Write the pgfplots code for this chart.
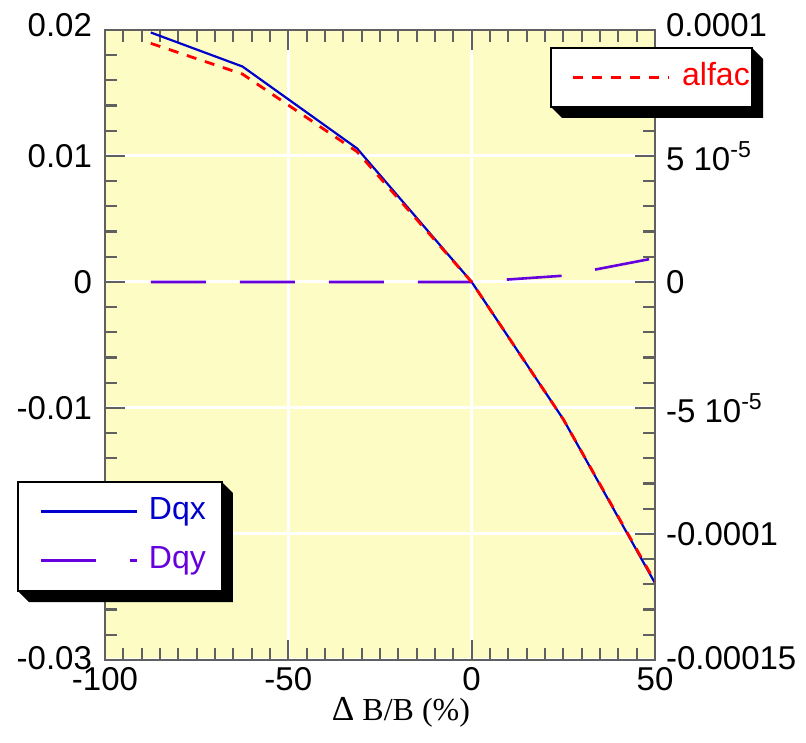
\documentclass[border=0pt]{standalone}
\usepackage{pgfplots}
\pgfplotsset{compat=1.18}
\usepackage{pgfplotstable}
\usepackage{fontspec}
\setmainfont{Liberation Sans}
\newfontfamily\timesfont{Liberation Serif}
\definecolor{bgy}{RGB}{252,252,196}
\definecolor{axgray}{RGB}{96,96,96}
\definecolor{dqx}{RGB}{0,0,204}
\definecolor{dqy}{RGB}{102,0,221}
\definecolor{alf}{RGB}{255,0,0}

\pgfplotstableread{
x dqx dqy
-87.5 0.0198 0
-62.5 0.0171 0
-31.25 0.0106 0
0 0 0
25 -0.0109 0.0005
50 -0.0239 0.0019
}\lefttab
\pgfplotstableread{
x alfac
-87.5 9.47e-5
-62.5 8.25e-5
-31.25 5.17e-5
0 0
25 -5.45e-5
50 -1.19e-4
}\righttab

\pgfplotsset{common/.style={
  width=275pt, height=315pt, scale only axis, clip=false,
  xmin=-100, xmax=50,
  axis line style={axgray, line width=1.25pt},
  tick style={axgray, line width=1.1pt},
  major tick length=10pt, minor tick length=6pt,
  tick align=inside,
  ticklabel style={font=\fontsize{16.5}{18}\selectfont},
  scaled y ticks=false, scaled x ticks=false,
  legend style={draw=none, fill=none,
    font=\fontsize{16}{18}\selectfont,
    nodes={text height=12pt, text depth=3.5pt, inner ysep=2pt},
    row sep=5pt, inner ysep=4.75pt},
  legend image code/.code={\draw[#1] (0pt,0pt) -- (48pt,0pt);},
}}
% shadowed box: #1=x0, #2=x1, #3=ybottom, #4=ytop (rel axis cs)
\newcommand{\shadowbox}[4]{%
  \fill[black] (rel axis cs:#2,#4) -- ([shift={(5.5pt,-5.5pt)}]rel axis cs:#2,#4)
    -- ([shift={(5.5pt,-5.5pt)}]rel axis cs:#2,#3) -- ([shift={(5.5pt,-5.5pt)}]rel axis cs:#1,#3)
    -- (rel axis cs:#1,#3) -- cycle;
  \filldraw[fill=white, draw=black, line width=1.35pt] (rel axis cs:#1,#3) rectangle (rel axis cs:#2,#4);
}

\begin{document}
\begin{tikzpicture}
\begin{axis}[common,
  axis background/.style={fill=bgy},
  grid=major, major grid style={white, line width=1.5pt},
  xtick={-100,-50,0,50}, xticklabels={-100,-50,0,50},
  minor x tick num=9, xtick pos=both,
  ymin=-0.03, ymax=0.02,
  ytick={-0.03,-0.02,-0.01,0,0.01,0.02},
  yticklabels={\raisebox{2pt}{-0.03},-0.02,-0.01,0,0.01,\raisebox{5pt}{0.02}},
  minor y tick num=4, ytick pos=left,
  yticklabel style={xshift=-3pt},
  xlabel={{\timesfont\fontsize{16}{18}\selectfont {\fontsize{17.5}{18}\selectfont Δ} B/B (\%)}},
  xlabel style={at={(axis description cs:0.5,0)}, anchor=center, xshift=10.5pt, yshift=-26pt},
  legend style={at={(rel axis cs:-0.1582,0.2825)}, anchor=north west,
    inner xsep=10.5pt, nodes={inner xsep=5.5pt}},
]
\coordinate (ll) at (rel axis cs:0,0);
\coordinate (ur) at (rel axis cs:1,1);
\addplot[dqx, line width=1.1pt] table[x=x, y=dqx] {\lefttab};
\addlegendentry{\textcolor{dqx}{Dqx}}
\addplot[dqy, line width=1.3pt, dash pattern=on 27.5pt off 17pt] table[x=x, y=dqy] {\lefttab};
\addlegendentry{\textcolor{dqy}{Dqy}}
\shadowbox{-0.1582}{0.2127}{0.1095}{0.2825}
\end{axis}
\begin{axis}[common,
  hide x axis, axis y line*=right,
  ymin=-0.00015, ymax=0.0001,
  ytick={-0.00015,-0.0001,-0.00005,0,0.00005,0.0001},
  yticklabels={\raisebox{2pt}{-0.00015},-0.0001,-5 10\textsuperscript{-5},0,5 10\textsuperscript{-5},\raisebox{5pt}{0.0001}},
  minor y tick num=4, ytick pos=right,
  yticklabel style={xshift=2pt},
  legend style={at={(rel axis cs:0.8109,0.9714)}, anchor=north west,
    inner xsep=10pt, nodes={inner xsep=3pt}, column sep=3pt},
]
\addplot[alf, line width=1.4pt, dash pattern=on 5pt off 4.5pt] table[x=x, y=alfac] {\righttab};
\addlegendentry{\textcolor{alf}{alfac}}
\shadowbox{0.8109}{1.1764}{0.8778}{0.9714}
\end{axis}
\path (ll) ++(-52.5pt,-41pt) coordinate (bl);
\path (ur) ++(75.5pt,15pt) coordinate (tr);
\pgfresetboundingbox
\path[use as bounding box] (bl) rectangle (tr);
\end{tikzpicture}
\end{document}
